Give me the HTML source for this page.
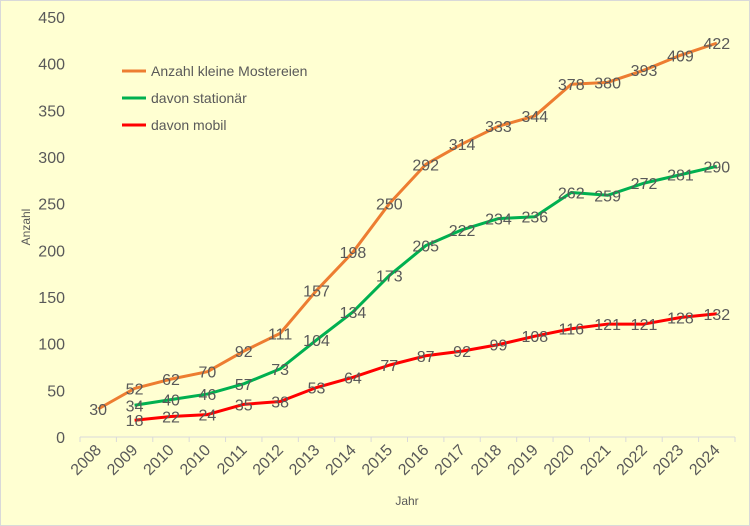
<!DOCTYPE html>
<html><head><meta charset="utf-8"><style>
body{margin:0;background:#fff}
svg{display:block;font-family:"Liberation Sans Narrow","Liberation Sans",sans-serif}
</style></head><body>
<svg width="750" height="526" viewBox="0 0 750 526">
<rect x="0.5" y="0.5" width="749" height="525" fill="#FFFFD2" stroke="#D9D9D9"/>
<g id="yaxis"></g>
<g id="xaxis"></g>
<g id="series"></g>
<text x="30" y="227" transform="rotate(-90 30 227)" font-size="12" fill="#595959" text-anchor="middle">Anzahl</text>
<text x="407" y="505" font-size="12" fill="#595959" text-anchor="middle">Jahr</text>
<g>
<g><line x1="122" y1="71" x2="146" y2="71" stroke="#ED7D31" stroke-width="3"/><text x="151" y="76" font-size="14" fill="#595959">Anzahl kleine Mostereien</text></g>
<g><line x1="122" y1="98" x2="146" y2="98" stroke="#00B050" stroke-width="3"/><text x="151" y="103" font-size="14" fill="#595959">davon stationär</text></g>
<g><line x1="122" y1="125" x2="146" y2="125" stroke="#FF0000" stroke-width="3"/><text x="151" y="130" font-size="14" fill="#595959">davon mobil</text></g>
</g>
</svg>
<script>
const categories=["2008","2009","2010","2010","2011","2012","2013","2014","2015","2016","2017","2018","2019","2020","2021","2022","2023","2024"];
const totalValues=[30,52,62,70,92,111,157,198,250,292,314,333,344,378,380,393,409,422];
const stationaerValues=[null,34,40,46,57,73,104,134,173,205,222,234,236,262,259,272,281,290];
const mobilValues=[null,18,22,24,35,38,53,64,77,87,92,99,108,116,121,121,128,132];
const yTicks=[0,50,100,150,200,250,300,350,400,450];
const NS="http://www.w3.org/2000/svg";
const L=80,R=735,T=17,B=437,YMAX=450;
const bw=(R-L)/categories.length;
const xs=i=>L+bw*(i+0.5);
const ys=v=>B-(v/YMAX)*(B-T);
function mk(tag,attrs,parent){const e=document.createElementNS(NS,tag);for(const k in attrs)e.setAttribute(k,attrs[k]);parent.appendChild(e);return e;}
const ya=document.getElementById('yaxis');
yTicks.forEach(t=>{const e=mk('text',{x:65,y:ys(t)+6,'font-size':16,fill:'#595959','text-anchor':'end'},ya);e.textContent=t;

});
const xa=document.getElementById('xaxis');
mk('line',{x1:L,y1:B,x2:R,y2:B,stroke:'#D9D9D9','stroke-width':1},xa);
for(let i=0;i<=categories.length;i++)mk('line',{x1:L+bw*i,y1:B,x2:L+bw*i,y2:B+5,stroke:'#D9D9D9'},xa);
categories.forEach((c,i)=>{const x=xs(i)+4,y=B+14;const e=mk('text',{x:x,y:y,'font-size':16,fill:'#595959','text-anchor':'end',transform:`rotate(-45 ${x} ${y})`},xa);e.textContent=c;

});
const sg=document.getElementById('series');
function series(vals,color,name){
 let d='';vals.forEach((v,i)=>{if(v==null)return;d+=(d?'L':'M')+xs(i)+','+ys(v);});
 const p=mk('path',{d:d,fill:'none',stroke:color,'stroke-width':3,'stroke-linejoin':'round'},sg);
 
 
 vals.forEach((v,i)=>{if(v==null)return;const t=mk('text',{x:xs(i),y:ys(v)+6,'font-size':16,fill:'#595959','text-anchor':'middle'},sg);t.textContent=v;
 
 });
}
series(totalValues,'#ED7D31','total');
series(stationaerValues,'#00B050','stationaer');
series(mobilValues,'#FF0000','mobil');
</script>
</body></html>
